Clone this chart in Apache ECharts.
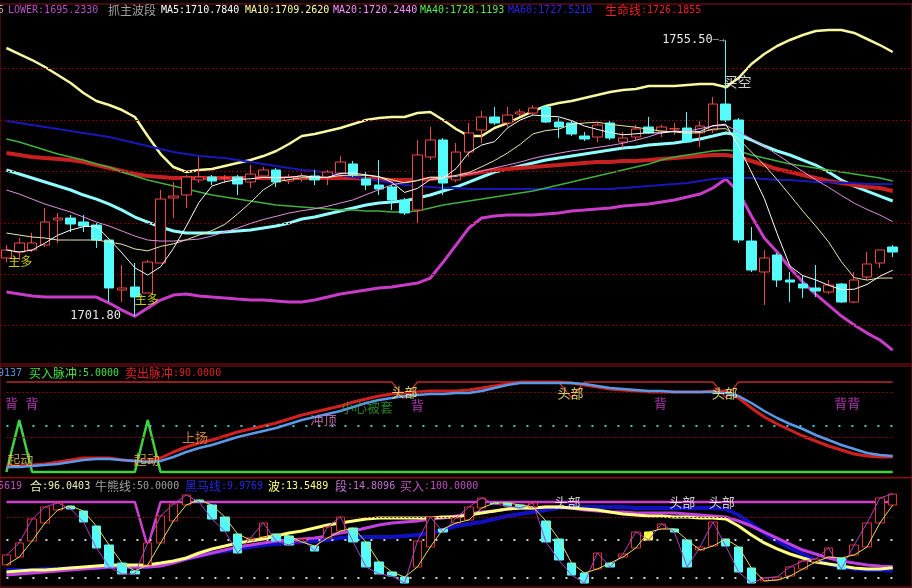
<!DOCTYPE html>
<html><head><meta charset="utf-8">
<script src="https://cdn.jsdelivr.net/npm/echarts/dist/echarts.min.js"></script>
<style>html,body{margin:0;padding:0;background:#000;}#c{width:912px;height:588px;}</style>
</head><body><div id="c"></div>
<script>
const categories = ['1','2','3','4','5','6','7','8','9','10','11','12','13','14','15','16','17','18','19','20','21','22','23','24','25','26','27','28','29','30','31','32','33','34','35','36','37','38','39','40','41','42','43','44','45','46','47','48','49','50','51','52','53','54','55','56','57','58','59','60','61','62','63','64','65','66','67','68','69','70','71'];

// main panel candles
const openP  = [1713.15,1714.32,1714.71,1715.68,1720.54,1720.93,1720.16,1719.57,1716.65,1706.93,1707.51,1706.34,1712.18,1724.83,1725.41,1728.33,1728.91,1728.72,1728.91,1727.94,1729.11,1730.27,1728.13,1728.52,1729.11,1728.91,1729.69,1731.44,1728.52,1727.35,1726.97,1724.44,1722.49,1732.80,1736.11,1728.33,1733.77,1738.05,1740.58,1739.42,1741.17,1741.36,1742.53,1739.61,1739.42,1736.89,1736.69,1739.42,1735.72,1736.69,1738.64,1737.86,1738.25,1738.44,1737.47,1738.05,1743.11,1740.00,1716.46,1710.43,1713.74,1708.87,1708.09,1707.32,1706.54,1708.09,1704.59,1709.46,1712.18,1715.29];
const closeP = [1714.71,1716.07,1716.07,1720.16,1720.93,1719.77,1719.38,1716.65,1707.32,1707.32,1705.57,1712.37,1724.63,1725.21,1728.91,1728.91,1728.13,1728.80,1727.55,1729.49,1730.27,1727.94,1728.91,1729.11,1728.33,1729.88,1731.83,1729.30,1727.35,1726.58,1724.44,1721.91,1733.19,1736.11,1727.74,1733.77,1737.47,1740.58,1739.42,1740.97,1741.56,1742.33,1739.61,1738.64,1737.28,1736.30,1739.03,1736.50,1736.50,1738.25,1737.47,1738.64,1738.30,1735.72,1738.83,1743.11,1740.00,1716.65,1710.82,1713.15,1708.87,1708.48,1707.32,1706.73,1707.90,1704.59,1708.87,1711.99,1714.71,1714.32];
const lowP   = [1712.37,1712.76,1714.32,1715.29,1716.07,1718.21,1718.21,1715.10,1704.59,1704.59,1701.80,1706.34,1712.18,1720.93,1722.88,1727.74,1727.35,1727.74,1725.41,1726.77,1728.72,1726.97,1727.55,1727.94,1727.35,1727.35,1728.91,1728.91,1726.38,1725.41,1722.49,1721.52,1719.96,1732.22,1725.41,1727.94,1732.80,1735.53,1739.03,1738.64,1740.78,1740.97,1739.42,1736.50,1736.89,1735.91,1735.72,1736.11,1734.55,1736.11,1737.28,1736.69,1737.08,1735.53,1734.75,1737.47,1739.61,1716.07,1710.43,1704.01,1707.51,1704.59,1705.37,1705.57,1706.15,1704.40,1704.40,1708.87,1711.21,1713.35];
const highP  = [1715.68,1717.04,1718.02,1722.88,1721.91,1721.52,1721.52,1719.96,1716.65,1711.79,1712.18,1712.76,1726.38,1727.94,1729.30,1732.80,1729.30,1729.30,1729.30,1731.25,1730.86,1730.66,1729.49,1729.69,1730.27,1730.27,1733.00,1732.02,1729.88,1732.22,1727.35,1724.83,1736.11,1738.64,1736.50,1735.53,1739.42,1741.75,1742.53,1742.53,1742.14,1742.92,1742.92,1740.39,1739.81,1737.67,1739.42,1739.81,1737.67,1739.03,1740.58,1739.03,1739.42,1741.56,1739.81,1744.47,1755.50,1740.39,1719.18,1714.71,1714.12,1710.43,1709.84,1711.79,1708.87,1708.29,1710.43,1714.32,1714.71,1715.68];

const upperBand = [1754.01,1752.84,1751.67,1750.31,1748.75,1747.20,1745.25,1743.70,1742.92,1741.94,1740.58,1736.88,1733.38,1730.85,1729.88,1730.27,1730.46,1731.05,1731.63,1732.21,1732.99,1733.97,1735.33,1736.88,1737.27,1737.86,1738.44,1739.22,1740.00,1740.39,1740.58,1740.58,1741.36,1741.55,1740.00,1738.25,1736.88,1736.88,1738.44,1739.41,1740.58,1741.75,1742.72,1743.31,1743.70,1744.28,1744.86,1745.45,1745.84,1746.03,1746.61,1746.61,1746.61,1746.81,1747.00,1747.00,1746.42,1748.17,1750.90,1752.84,1754.40,1755.57,1756.54,1757.32,1757.51,1757.51,1756.93,1755.76,1754.59,1753.23];
const lowerBand = [1706.53,1706.14,1705.75,1705.55,1705.55,1705.55,1705.55,1705.55,1704.39,1703.02,1701.80,1703.41,1704.97,1705.94,1706.14,1705.75,1705.55,1705.36,1705.16,1704.97,1704.97,1704.78,1704.58,1704.58,1704.97,1705.55,1706.14,1706.53,1706.92,1707.31,1707.50,1707.89,1708.28,1709.25,1712.36,1715.67,1718.98,1720.93,1721.32,1721.51,1721.51,1721.51,1721.71,1721.90,1722.29,1722.48,1722.68,1722.87,1723.26,1723.46,1723.65,1724.04,1724.43,1725.01,1725.60,1726.77,1728.52,1725.99,1721.32,1717.04,1714.31,1711.20,1708.47,1706.14,1704.00,1701.86,1700.10,1698.55,1697.19,1695.23];
const midBand = [1730.27,1729.49,1728.71,1727.93,1727.15,1726.38,1725.40,1724.62,1723.65,1722.48,1721.12,1720.15,1719.18,1718.40,1718.01,1718.01,1718.01,1718.20,1718.40,1718.59,1718.98,1719.37,1719.95,1720.73,1721.12,1721.71,1722.29,1722.87,1723.46,1723.85,1724.04,1724.24,1724.82,1725.40,1726.18,1726.96,1727.93,1728.91,1729.88,1730.46,1731.05,1731.63,1732.21,1732.60,1732.99,1733.38,1733.77,1734.16,1734.55,1734.74,1735.13,1735.33,1735.52,1735.91,1736.30,1736.88,1737.47,1737.08,1736.11,1734.94,1733.97,1733.19,1732.21,1731.24,1729.88,1728.32,1727.15,1726.18,1725.21,1724.24];
const lifeLine = [1733.58,1733.19,1732.80,1732.60,1732.41,1732.21,1731.82,1731.24,1730.66,1730.07,1729.49,1729.10,1728.91,1728.71,1728.71,1728.71,1728.71,1728.71,1728.71,1728.71,1728.71,1728.71,1728.71,1728.71,1728.71,1728.71,1728.71,1728.71,1728.52,1728.52,1728.32,1728.32,1728.32,1728.52,1728.71,1729.10,1729.49,1729.88,1730.27,1730.46,1730.66,1730.85,1731.05,1731.24,1731.44,1731.63,1731.82,1731.82,1732.02,1732.02,1732.21,1732.41,1732.60,1732.80,1732.99,1733.19,1733.19,1732.80,1732.02,1731.24,1730.46,1729.88,1729.29,1728.71,1728.13,1727.74,1727.35,1726.96,1726.77,1726.19];
const ma60 = [1739.80,1739.41,1739.03,1738.64,1738.25,1737.86,1737.47,1737.08,1736.69,1736.11,1735.52,1734.94,1734.35,1733.77,1733.38,1732.99,1732.80,1732.60,1732.21,1731.82,1731.44,1731.05,1730.66,1730.27,1730.07,1729.68,1729.29,1728.91,1728.52,1728.13,1727.74,1727.35,1727.15,1726.96,1726.77,1726.77,1726.57,1726.57,1726.57,1726.57,1726.57,1726.57,1726.57,1726.57,1726.57,1726.57,1726.57,1726.57,1726.77,1726.96,1727.15,1727.35,1727.54,1727.74,1728.13,1728.52,1728.71,1728.71,1728.71,1728.52,1728.32,1728.32,1728.13,1727.93,1727.93,1727.74,1727.74,1727.54,1727.54,1727.52];
const ma40 = [1736.30,1735.72,1734.94,1734.16,1733.38,1732.80,1732.21,1731.44,1730.85,1729.88,1729.10,1728.32,1727.74,1727.15,1726.57,1725.99,1725.40,1725.01,1724.62,1724.24,1723.85,1723.46,1723.26,1723.07,1722.87,1722.68,1722.48,1722.48,1722.29,1722.29,1722.09,1722.09,1722.29,1722.87,1723.46,1723.85,1724.24,1724.62,1725.01,1725.40,1725.79,1726.18,1726.77,1727.35,1727.93,1728.52,1729.10,1729.68,1730.27,1730.85,1731.44,1732.21,1732.80,1733.19,1733.58,1733.97,1734.16,1733.97,1733.19,1732.60,1732.02,1731.44,1731.05,1730.66,1730.27,1729.88,1729.49,1729.10,1728.71,1728.12];
const ma20 = [1726.38,1725.60,1724.62,1723.65,1722.87,1722.09,1721.12,1720.15,1719.37,1718.40,1717.42,1716.65,1716.45,1716.45,1716.65,1716.84,1717.42,1718.20,1718.98,1719.88,1720.65,1721.26,1721.90,1722.35,1722.72,1723.22,1723.85,1724.47,1725.48,1726.43,1727.39,1727.85,1728.28,1728.83,1728.77,1729.02,1729.49,1730.07,1730.68,1731.24,1731.82,1732.53,1733.07,1733.54,1733.98,1734.32,1734.67,1735.04,1735.48,1736.07,1736.73,1737.57,1737.82,1737.80,1738.34,1738.83,1738.95,1737.74,1736.32,1734.94,1733.28,1731.59,1729.98,1728.38,1726.92,1725.32,1723.83,1722.60,1721.51,1720.24];
const ma10 = [1718.01,1717.62,1717.23,1717.04,1716.65,1716.65,1716.65,1716.65,1716.26,1715.83,1714.91,1714.54,1715.40,1715.91,1716.70,1717.62,1718.49,1719.70,1721.73,1723.94,1726.41,1727.97,1728.40,1728.79,1728.73,1728.83,1729.20,1729.26,1729.24,1728.94,1728.36,1727.76,1728.19,1728.89,1728.83,1729.22,1729.78,1730.91,1732.12,1733.56,1735.27,1737.31,1737.95,1738.21,1739.16,1739.41,1739.57,1739.16,1738.87,1738.60,1738.19,1737.82,1737.68,1737.39,1737.55,1738.23,1738.32,1736.34,1733.77,1731.26,1728.40,1725.38,1722.29,1719.39,1716.30,1712.44,1709.33,1708.86,1709.25,1709.26];
const ma5 = [1714.70,1714.31,1714.70,1716.06,1717.58,1718.59,1719.25,1719.37,1716.84,1714.12,1711.24,1709.83,1711.43,1715.01,1719.33,1724.00,1727.15,1727.97,1728.44,1728.56,1728.83,1728.79,1728.83,1729.14,1728.91,1728.83,1729.61,1729.68,1729.33,1728.98,1727.89,1725.91,1726.69,1728.44,1728.67,1730.54,1733.65,1735.13,1735.79,1738.44,1740.00,1740.97,1740.78,1740.62,1739.88,1738.83,1738.17,1737.55,1737.12,1737.31,1737.55,1737.47,1737.82,1737.66,1737.78,1738.91,1739.18,1734.86,1729.88,1724.74,1717.89,1711.59,1709.72,1708.90,1707.85,1706.99,1707.07,1708.01,1709.60,1710.78];
const priceLevels = [1700,1710,1720,1730,1740,1750];

// panel 2
const buyPulse  = [5,54,5,5,5,5,5,5,5,5,5,54,5,5,5,5,5,5,5,5,5,5,5,5,5,5,5,5,5,5,5,5,5,5,5,5,5,5,5,5,5,5,5,5,5,5,5,5,5,5,5,5,5,5,5,5,5,5,5,5,5,5,5,5,5,5,5,5,5,5];
const sellPulse = [90,90,90,90,90,90,90,90,90,90,90,90,90,90,90,90,90,90,90,90,90,90,90,90,90,90,90,90,90,90,90,75,90,90,90,90,90,90,90,90,90,90,90,90,75,90,90,90,90,90,90,90,90,90,90,90,75,90,90,90,90,90,90,90,90,90,90,90,90,90];
const trendRed  = [10.67,10.67,11.62,12.56,14.45,16.34,18.23,18.23,18.23,16.34,15.39,15.39,18.23,23.89,28.62,32.39,35.23,39.01,42.78,45.62,48.45,51.28,55.06,58.84,61.67,64.51,67.34,71.12,73.95,76.79,78.68,79.62,80.57,81.51,81.51,81.51,82.45,84.34,86.23,88.12,90.00,90.00,90.00,90.00,89.06,87.17,85.29,83.40,82.45,81.51,80.57,80.57,80.57,80.57,80.57,81.51,81.51,74.90,65.45,56.95,50.34,44.67,39.01,34.28,29.56,25.78,22.00,20.12,19.17,19.17];
const trendBlue = [9.73,9.73,10.67,11.62,12.56,14.45,16.34,17.28,17.28,16.34,15.39,14.45,15.39,19.17,23.89,27.67,30.51,34.28,38.06,40.89,43.73,46.56,50.34,54.12,56.95,59.78,62.62,66.40,70.17,73.01,74.90,76.79,77.73,78.68,78.68,79.62,79.62,81.51,84.34,87.17,89.06,89.06,89.06,89.06,89.06,88.12,86.23,84.34,83.40,82.45,81.51,81.51,80.57,80.57,80.57,80.57,79.62,76.79,70.17,62.62,56.01,50.34,45.62,39.95,35.23,30.51,26.73,22.95,21.06,20.12];

// panel 3
const fastOsc = [30.3,46.1,77.6,93.4,98.7,90.8,73.7,39.5,14.5,5.3,5.3,46.1,81.6,97.4,109.2,100.0,77.6,61.8,32.9,52.6,72.4,48.7,43.4,51.3,35.5,67.1,80.3,47.4,14.5,5.3,2.6,-6.6,48.7,80.3,60.5,78.9,93.4,105.3,97.4,94.7,92.1,98.7,47.4,23.7,3.9,-6.6,32.9,14.5,31.6,60.5,50.0,71.1,60.5,14.5,40.8,73.7,42.1,7.9,-6.6,0.0,1.3,14.5,22.4,25.0,39.5,11.8,43.4,72.4,105.3,110.56];
const heLine  = [17.1,27.6,48.7,72.4,89.5,94.7,88.2,68.4,43.4,19.7,9.2,17.1,46.1,75.0,96.1,102.6,96.1,80.3,57.9,50.0,53.9,57.9,55.3,47.4,42.1,52.6,61.8,65.8,47.4,21.1,7.9,1.3,14.5,40.8,64.5,72.4,76.3,92.1,98.7,98.7,96.1,93.4,75.0,51.3,19.7,6.6,11.8,19.7,27.6,39.5,60.5,64.5,64.5,50.0,36.8,42.1,51.3,40.8,13.2,-3.9,-2.6,2.6,11.8,21.1,27.6,26.3,30.3,40.8,72.4,96.04];
const waveLine = [7.9,9.2,10.5,10.5,11.8,13.2,14.5,15.8,17.1,17.1,17.1,17.1,19.7,22.4,26.3,32.9,38.2,42.1,46.1,48.7,51.3,55.3,59.2,61.8,65.8,69.7,72.4,75.0,77.6,78.9,78.9,78.9,78.9,78.9,80.3,80.3,82.9,85.5,88.2,90.8,92.1,92.1,93.4,93.4,92.1,90.8,89.5,86.8,84.2,82.9,81.6,81.6,80.3,80.3,78.9,78.9,77.6,68.4,56.6,46.1,38.2,31.6,26.3,21.1,18.4,15.8,13.2,11.8,11.8,13.55];
const segLine = [3.9,5.3,6.6,7.9,9.2,10.5,11.8,13.2,14.5,14.5,14.5,14.5,15.8,19.7,25.0,28.9,32.9,36.8,40.8,43.4,46.1,48.7,50.0,51.3,52.6,55.3,59.2,61.8,65.8,69.7,72.4,73.7,75.0,77.6,78.9,81.6,84.2,86.8,88.2,90.8,92.1,92.1,93.4,93.4,92.1,89.5,88.2,86.8,86.8,85.5,85.5,85.5,85.5,84.2,82.9,81.6,80.3,75.0,68.4,60.5,52.6,44.7,36.8,31.6,26.3,22.4,19.7,17.1,15.8,14.81];
const horseLine = [10.5,10.5,10.5,11.8,11.8,13.2,13.2,13.2,14.5,14.5,14.5,14.5,17.1,21.1,25.0,28.9,32.9,35.5,38.2,40.8,43.4,44.7,46.1,47.4,48.7,50.0,52.6,53.9,53.9,53.9,53.9,55.3,56.6,59.2,63.2,68.4,71.1,73.7,77.6,81.6,84.2,86.8,89.5,92.1,93.4,93.4,93.4,93.4,93.4,92.1,92.1,92.1,92.1,92.1,92.1,92.1,90.8,82.9,71.1,59.2,48.7,39.5,31.6,23.7,18.4,14.5,11.8,10.5,10.5,9.98];
const buyLine = [100,100,100,100,100,100,100,100,100,100,100,40.8,100,100,100,100,100,100,100,100,100,100,100,100,100,100,100,100,100,100,100,100,100,100,100,100,100,100,100,100,100,100,100,100,100,100,100,100,100,100,100,100,100,100,100,100,100,100,100,100,100,100,100,100,100,100,100,100,100,100];
const highlightBar = 50;

// annotations: [text, index, value, color, size, dx, dy]
const notesMain = [['主多',1,1712.56,'#ffff00',12,1,0],['主多',11,1705.16,'#ffff00',12,-1,0],['买空',57,1747.39,'#ffffff',14,-1,0]];
const notesP2 = [['背',0,70.2,'#e040e0',13,5,0],['背',2,70.2,'#e040e0',13,0,0],['起动',1,17.3,'#f0c050',13,1,0],['起动',11,17.3,'#f0c050',13,-1,0],
  ['上扬',15,38.1,'#e8a040',13,-4,0],['冲顶',25,54.1,'#e080c0',13,-4,0],['小心被套',28,66.4,'#30a030',13,1,0],
  ['头部',31,80.6,'#ffff80',13,0,0],['背',32,68.3,'#e040e0',13,0,0],['头部',44,79.7,'#ffff80',13,-1,0],['背',51,70.2,'#e040e0',13,-1,0],
  ['头部',56,79.7,'#ffff80',13,-1,0],['背背',65,70.2,'#e040e0',13,6,0]];
const notesP3 = [['头部',44,100,'#ffffff',13,-4,0],['头部',53,100,'#ffffff',13,-5,0],['头部',56,100,'#ffffff',13,-4,0]];

const titles = [
  [373-363+0, -2, '', '5', '#b0b0b0'],
];
const titleMain = [[-2,'','5','#b0b0b0'],[8,'','LOWER:1695.2330','#b850c8'],[108,'抓主波段','','#a0a0a0'],[161,'','MA5:1710.7840','#ffffff'],[245,'','MA10:1709.2620','#ffffa0'],[333,'','MA20:1720.2440','#ff90ff'],[420,'','MA40:1728.1193','#50f050'],[508,'','MA60:1727.5210','#2828e8'],[605,'生命线',':1726.1855','#f02020']];
const titleP2 = [[-2,'','9137','#6090d0'],[29,'买入脉冲',':5.0000','#40e040'],[125,'卖出脉冲',':90.0000','#e02020']];
const titleP3 = [[-2,'','5619','#c050c0'],[30,'合',':96.0403','#f0f0b0'],[95,'牛熊线',':50.0000','#a0a0a0'],[185,'黑马线',':9.9769','#2828e0'],[268,'波',':13.5489','#ffff80'],[335,'段',':14.8096','#c070d0'],[400,'买入',':100.0000','#c050c0']];

const chart = echarts.init(document.getElementById('c'), null, {renderer:'canvas'});

const candleData = openP.map((o,i)=>[o, closeP[i], lowP[i], highP[i]]);
const oscData = fastOsc.map((p,i)=>{
  const y = heLine[i];
  const v = [y, p, Math.min(y,p), Math.max(y,p)];
  if (i === highlightBar) return {value:v, itemStyle:{color:'#ffff40', color0:'#ffff40', borderColor:'#ffff40', borderColor0:'#ffff40'}};
  return v;
});

function line(name, data, xi, color, width, z){
  return {type:'line', name, data, xAxisIndex:xi, yAxisIndex:xi, symbol:'none', showSymbol:false, silent:true, z:z||2,
    lineStyle:{color, width}, itemStyle:{color}};
}
function notes(list, xi){
  return {type:'scatter', xAxisIndex:xi, yAxisIndex:xi, symbolSize:1, silent:true, z:30, itemStyle:{color:'rgba(0,0,0,0)'},
    data:list.map(n=>({value:[n[1],n[2]], label:{show:true, position:'inside', formatter:n[0], color:n[3], fontSize:n[4], fontFamily:'Noto Sans CJK SC', offset:[n[5],n[6]]}}))};
}
const mono = '"DejaVu Sans Mono", "Liberation Mono", monospace';
function titleGraphics(list, y){
  const out = [];
  list.forEach(t=>{
    let x = t[0];
    if (t[1]) { out.push({type:'text', x, y, silent:true, z:100, style:{text:t[1], fill:t[3], font:'12px "Noto Sans CJK SC"', verticalAlign:'middle'}}); x += 12*t[1].length; }
    if (t[2]) out.push({type:'text', x, y, silent:true, z:100, style:{text:t[2], fill:t[3], font:'10px '+mono, verticalAlign:'middle'}});
  });
  return out;
}
const dotted = (v, color, type, width) => ({yAxis:v, lineStyle:{color, type, width}});
const seg = (v, color, type, width) => [{coord:[0,v], lineStyle:{color, type, width}}, {coord:[69,v]}];

const option = {
  backgroundColor:'#000000',
  animation:false,
  grid:[
    {left:-9.5, right:-1.5, top:4, height:360, show:true, borderColor:'#8c1414', borderWidth:1},
    {left:-9.5, right:-1.5, top:366, height:111.3, show:true, borderColor:'#8c1414', borderWidth:1},
    {left:-9.5, right:-1.5, top:478, height:109, show:true, borderColor:'#8c1414', borderWidth:1}
  ],
  xAxis:[0,1,2].map(g=>({type:'category', gridIndex:g, data:categories, show:false, boundaryGap:true})),
  yAxis:[
    {type:'value', gridIndex:0, min:1692.53, max:1762.57, show:false, splitLine:{show:false}},
    {type:'value', gridIndex:1, min:0, max:105.12, show:false, splitLine:{show:false}},
    {type:'value', gridIndex:2, min:-11.84, max:131.58, show:false, splitLine:{show:false}}
  ],
  graphic: [].concat(titleGraphics(titleMain,10), titleGraphics(titleP2,373), titleGraphics(titleP3,486)),
  series:[
    line('UPPER', upperBand, 0, '#f8f8a0', 2.5, 3),
    line('LOWER', lowerBand, 0, '#c83cc8', 3, 3),
    line('MID', midBand, 0, '#90ffff', 3, 3),
    line('生命线', lifeLine, 0, '#c82020', 4, 3),
    line('MA60', ma60, 0, '#1818b8', 2, 3),
    line('MA40', ma40, 0, '#40b040', 1.5, 3),
    {type:'candlestick', name:'K', xAxisIndex:0, yAxisIndex:0, data:candleData, barWidth:10, silent:true, z:5,
      itemStyle:{color:'#000000', color0:'#54fcfc', borderColor:'#f04848', borderColor0:'#54fcfc', borderWidth:1},
      markLine:{silent:true, symbol:['none','none'], label:{show:false}, lineStyle:{color:'#7a0000', type:[2,2], width:1},
        data: priceLevels.map(v=>({yAxis:v}))},
      markPoint:{silent:true, symbol:'circle', symbolSize:0, data:[
        {coord:[56,1755.5], label:{show:true, position:'left', distance:1, formatter:'{n|1755.50}{a|─→}', rich:{n:{color:'#e8e8e8', fontSize:12, fontFamily:mono}, a:{color:'#a0a0a0', fontSize:10, fontFamily:mono}}}},
        {coord:[10,1701.8], label:{show:true, position:'left', distance:14, formatter:'1701.80', color:'#e8e8e8', fontSize:12, fontFamily:mono}}
      ]}
    },
    line('MA20', ma20, 0, '#e090e0', 1, 6),
    line('MA10', ma10, 0, '#e8e8a8', 1, 6),
    line('MA5', ma5, 0, '#ffffff', 1, 7),
    notes(notesMain, 0),

    {type:'line', name:'卖出脉冲', data:sellPulse, xAxisIndex:1, yAxisIndex:1, symbol:'none', silent:true, z:2, lineStyle:{color:'#c02828', width:1.5},
      markLine:{silent:true, symbol:['none','none'], label:{show:false}, data:[seg(80,'#7a1010',[2,2],1), seg(38,'#7a1010',[2,2],1), seg(48.5,'#40c8c8',[2,11],2)]}},
    line('买入脉冲', buyPulse, 1, '#40d040', 2.5, 3),
    line('红线', trendRed, 1, '#d02020', 3, 4),
    line('蓝线', trendBlue, 1, '#5a98e8', 2.5, 5),
    notes(notesP2, 1),

    {type:'line', name:'买入', data:buyLine, xAxisIndex:2, yAxisIndex:2, symbol:'none', silent:true, z:2, lineStyle:{color:'#d040d0', width:2.5},
      markLine:{silent:true, symbol:['none','none'], label:{show:false}, data:[seg(80,'#7a1010',[2,2],1), seg(50,'#d0d0d0',[2,11],2), seg(0,'#d0d0d0',[2,11],2)]}},
    line('黑马线', horseLine, 2, '#1010c0', 4, 3),
    line('段', segLine, 2, '#c040e0', 3, 4),
    line('波', waveLine, 2, '#ffff80', 3, 4),
    {type:'candlestick', name:'合K', xAxisIndex:2, yAxisIndex:2, data:oscData, barWidth:9, silent:true, z:6,
      itemStyle:{color:'#000000', color0:'#54fcfc', borderColor:'#e03030', borderColor0:'#54fcfc', borderWidth:1}},
    line('快线', fastOsc, 2, '#b040c0', 1, 7),
    line('合', heLine, 2, '#e0e060', 1, 7),
    notes(notesP3, 2)
  ]
};
chart.setOption(option);
</script>
</body></html>
